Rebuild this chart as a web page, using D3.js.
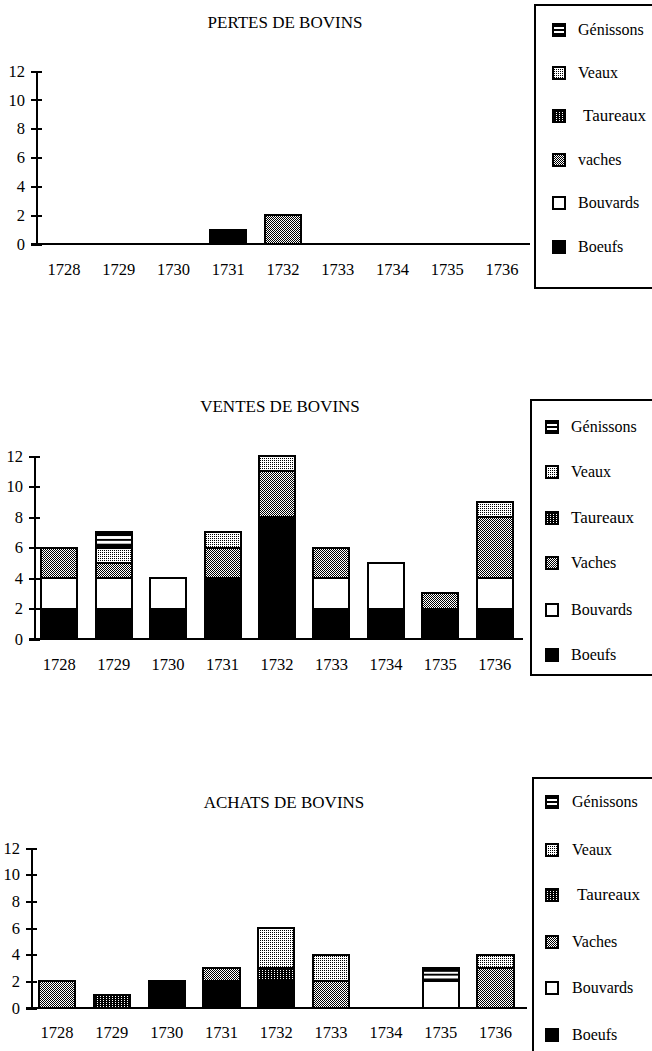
<!DOCTYPE html>
<html><head><meta charset="utf-8">
<script src="https://cdn.jsdelivr.net/npm/d3@7"></script>
<style>
html,body{margin:0;padding:0;background:#fff;}
svg{display:block;}
text{font-family:"Liberation Serif","Times New Roman",serif;fill:#000;}
</style></head>
<body>
<svg id="c" width="652" height="1051" shape-rendering="crispEdges"></svg>
<script>
// ---------- DATA ----------
const years = ["1728","1729","1730","1731","1732","1733","1734","1735","1736"];
const seriesNames = ["Boeufs","Bouvards","Vaches","Taureaux","Veaux","Génissons"]; // stacking order, bottom → top
const yTicks = [0,2,4,6,8,10,12];

const titles = ["PERTES DE BOVINS","VENTES DE BOVINS","ACHATS DE BOVINS"];
const legendLabels1 = ["Génissons","Veaux","Taureaux","vaches","Bouvards","Boeufs"];
const legendLabels2 = ["Génissons","Veaux","Taureaux","Vaches","Bouvards","Boeufs"];
const legendLabels3 = ["Génissons","Veaux","Taureaux","Vaches","Bouvards","Boeufs"];

// Pertes
const pertesBoeufs    = [0,0,0,1,0,0,0,0,0];
const pertesBouvards  = [0,0,0,0,0,0,0,0,0];
const pertesVaches    = [0,0,0,0,2,0,0,0,0];
const pertesTaureaux  = [0,0,0,0,0,0,0,0,0];
const pertesVeaux     = [0,0,0,0,0,0,0,0,0];
const pertesGenissons = [0,0,0,0,0,0,0,0,0];
// Ventes
const ventesBoeufs    = [2,2,2,4,8,2,2,2,2];
const ventesBouvards  = [2,2,2,0,0,2,3,0,2];
const ventesVaches    = [2,1,0,2,3,2,0,1,4];
const ventesTaureaux  = [0,0,0,0,0,0,0,0,0];
const ventesVeaux     = [0,1,0,1,1,0,0,0,1];
const ventesGenissons = [0,1,0,0,0,0,0,0,0];
// Achats
const achatsBoeufs    = [0,0,2,2,2,0,0,0,0];
const achatsBouvards  = [0,0,0,0,0,0,0,2,0];
const achatsVaches    = [2,0,0,1,0,2,0,0,3];
const achatsTaureaux  = [0,1,0,0,1,0,0,0,0];
const achatsVeaux     = [0,0,0,0,3,2,0,0,1];
const achatsGenissons = [0,0,0,0,0,0,0,1,0];

// ---------- BUILD TABLES ----------
function table(b,bo,v,t,ve,g){
  return years.map((y,i)=>({year:y,"Boeufs":b[i],"Bouvards":bo[i],"Vaches":v[i],"Taureaux":t[i],"Veaux":ve[i],"Génissons":g[i]}));
}
const datasets = [
  table(pertesBoeufs,pertesBouvards,pertesVaches,pertesTaureaux,pertesVeaux,pertesGenissons),
  table(ventesBoeufs,ventesBouvards,ventesVaches,ventesTaureaux,ventesVeaux,ventesGenissons),
  table(achatsBoeufs,achatsBouvards,achatsVaches,achatsTaureaux,achatsVeaux,achatsGenissons)
];
const legendSets = [legendLabels1,legendLabels2,legendLabels3];
const legendKeys = ["Génissons","Veaux","Taureaux","Vaches","Bouvards","Boeufs"];

// ---------- LAYOUT (styling) ----------
const layouts = [
  {titleX:285,titleY:28,axisX:36,y0:244,y12:71,bx:[36.6,529.4],xEnd:530,yearY:275,
   lg:{x:535,y:5,b:288,rows:[30,73,116,160,203,247],sx:553,tx:578}},
  {titleX:280,titleY:412,axisX:34,y0:639,y12:456,bx:[32,522],xEnd:523,yearY:670,
   lg:{x:531,y:400,b:675,rows:[427,472,518,563,610,655],sx:546,tx:571}},
  {titleX:284,titleY:808,axisX:31,y0:1008,y12:848,bx:[29.6,523],xEnd:527,yearY:1038,
   lg:{x:533,y:778,b:1070,rows:[802,850,895,942,988,1035],sx:546,tx:572}}
];
const legendFont = {"Génissons":16,"Veaux":16,"Taureaux":17,"Vaches":16,"Bouvards":16,"Boeufs":16};

const svg = d3.select("#c");
const defs = svg.append("defs");

function pat(id,w,h){ return defs.append("pattern").attr("id",id).attr("patternUnits","userSpaceOnUse").attr("width",w).attr("height",h); }
// Vaches: fine 50% checker
let p = pat("pVaches",2,2);
p.append("rect").attr("width",2).attr("height",2).attr("fill","#fff");
p.append("rect").attr("x",0).attr("y",0).attr("width",1).attr("height",1).attr("fill","#000");
p.append("rect").attr("x",1).attr("y",1).attr("width",1).attr("height",1).attr("fill","#000");
// Veaux: light stipple
p = pat("pVeaux",2,2);
p.append("rect").attr("width",2).attr("height",2).attr("fill","#fff");
p.append("rect").attr("x",0).attr("y",0).attr("width",1).attr("height",1).attr("fill","#000");
// Taureaux: black with white dots
p = pat("pTaureaux",3,2);
p.append("rect").attr("width",3).attr("height",2).attr("fill","#000");
p.append("rect").attr("x",1).attr("y",0).attr("width",1).attr("height",1).attr("fill","#fff");
// Génissons: black frame with white band and thin middle line
p = defs.append("pattern").attr("id","pGenissons").attr("patternUnits","objectBoundingBox")
  .attr("patternContentUnits","objectBoundingBox").attr("width",1).attr("height",1);
p.append("rect").attr("width",1).attr("height",1).attr("fill","#000");
p.append("rect").attr("x",0).attr("y",0.25).attr("width",1).attr("height",0.5).attr("fill","#fff");
p.append("rect").attr("x",0).attr("y",0.45).attr("width",1).attr("height",0.1).attr("fill","#000");

const fills = {"Boeufs":"#000","Bouvards":"#fff","Vaches":"url(#pVaches)","Taureaux":"url(#pTaureaux)","Veaux":"url(#pVeaux)","Génissons":"url(#pGenissons)"};

const stack = d3.stack().keys(seriesNames);

datasets.forEach((data,ci)=>{
  const L = layouts[ci];
  const g = svg.append("g");
  const x = d3.scaleBand().domain(years).range(L.bx).paddingInner(0.34).paddingOuter(0.17);
  const y = d3.scaleLinear().domain([0,12]).range([L.y0,L.y12]);

  g.append("text").attr("x",L.titleX).attr("y",L.titleY).attr("text-anchor","middle")
    .style("font-size","17px").text(titles[ci]);

  const series = stack(data);
  g.append("g").selectAll("g").data(series).join("g")
    .attr("fill",d=>fills[d.key])
    .selectAll("rect").data(d=>d.filter(s=>s[1]-s[0]>0)).join("rect")
    .attr("x",d=>x(d.data.year)).attr("width",x.bandwidth())
    .attr("y",d=>y(d[1])).attr("height",d=>y(d[0])-y(d[1]))
    .attr("stroke","#000").attr("stroke-width",2);

  g.append("line").attr("x1",L.axisX-5).attr("x2",L.xEnd).attr("y1",y(0)).attr("y2",y(0))
    .attr("stroke","#000").attr("stroke-width",2);
  const xa = g.append("g").attr("transform",`translate(0,${y(0)})`)
    .call(d3.axisBottom(x).tickSize(0).tickPadding(0));
  xa.select(".domain").remove();
  xa.selectAll("text").attr("y",L.yearY-y(0)).attr("dy",0)
    .style("font-size","16.5px").style("font-family","'Liberation Serif',serif");

  const ya = g.append("g").attr("transform",`translate(${L.axisX},0)`)
    .call(d3.axisLeft(y).tickValues(yTicks).tickSize(5).tickSizeOuter(0).tickPadding(6));
  ya.select(".domain").attr("stroke-width",2);
  ya.selectAll(".tick line").attr("x1",-5).attr("x2",6).attr("stroke-width",2);
  ya.selectAll("text").style("font-size","16.5px").style("font-family","'Liberation Serif',serif");

  const lg = L.lg;
  g.append("rect").attr("x",lg.x).attr("y",lg.y).attr("width",700-lg.x).attr("height",lg.b-lg.y)
    .attr("fill","none").attr("stroke","#000").attr("stroke-width",2);
  const items = g.append("g").selectAll("g").data(legendKeys).join("g")
    .attr("transform",(d,i)=>`translate(0,${lg.rows[i]})`);
  items.append("rect").attr("x",lg.sx).attr("y",-6).attr("width",12).attr("height",12)
    .attr("fill",d=>fills[d]).attr("stroke","#000").attr("stroke-width",2);
  items.append("text").attr("x",(d,i)=>lg.tx + (d==="Taureaux" && ci!==1 ? 5 : 0)).attr("y",5)
    .style("font-size",d=>legendFont[d]+"px").text((d,i)=>legendSets[ci][i]);
});
</script>
</body></html>
